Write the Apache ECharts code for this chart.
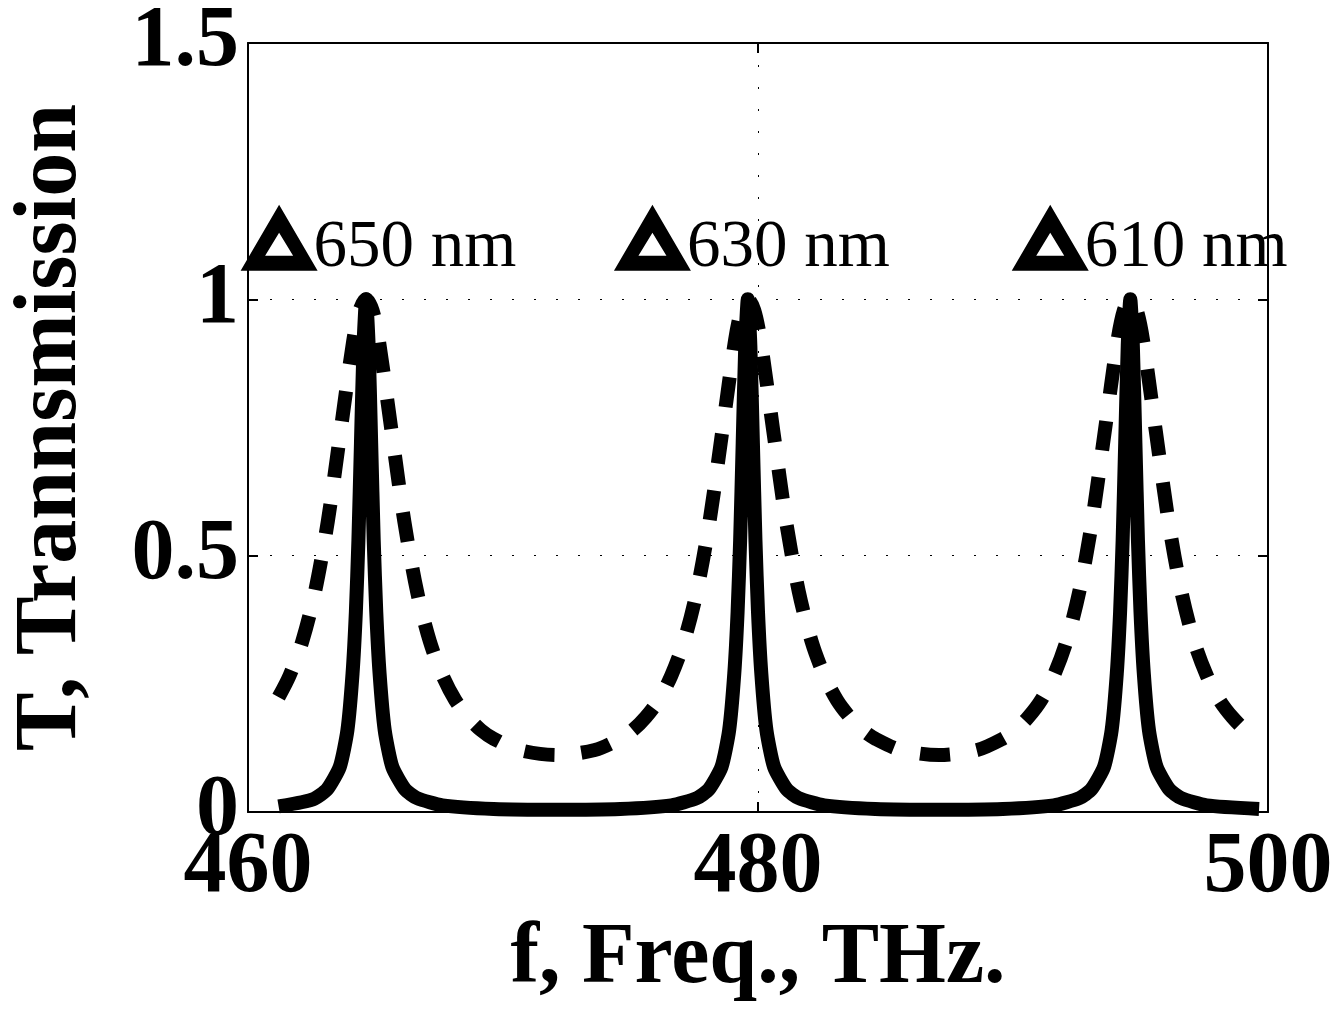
<!DOCTYPE html>
<html>
<head>
	<meta charset="UTF-8">
	<title>T, Transmission</title>
	<script src="https://cdn.jsdelivr.net/npm/echarts@6/dist/echarts.min.js"></script>
	<style>
		html, body { margin: 0; padding: 0; background: #fff; }
		#chart { width: 1339px; height: 1013px; }
	</style>
</head>
<body>
	<div id="chart"></div>
	<script>
		// x axis ticks
		var freqTicks = [460, 480, 500];
		var transTicks = [0, 0.5, 1, 1.5];

		// solid curve (narrow resonances)
		var solidFreq = [461.2, 462.1, 462.6, 463.1, 463.6, 463.9, 464.1, 464.23, 464.33, 464.43, 464.53, 464.63,
			464.73, 464.83, 464.93, 465.03, 465.16, 465.36, 465.66, 466.16, 466.63, 467.63, 469.63, 472.1,
			474.6, 476.6, 477.6, 478.07, 478.57, 478.87, 479.07, 479.2, 479.3, 479.4, 479.5, 479.6,
			479.7, 479.8, 479.9, 480.0, 480.13, 480.33, 480.63, 481.13, 481.6, 482.6, 484.6, 487.1,
			489.6, 491.6, 492.6, 493.07, 493.57, 493.87, 494.07, 494.2, 494.3, 494.4, 494.5, 494.6,
			494.7, 494.8, 494.9, 495.0, 495.13, 495.33, 495.63, 496.13, 496.6, 497.6, 499.65];
		var solidTrans = [0.011, 0.019, 0.026, 0.044, 0.088, 0.16, 0.27, 0.39, 0.53, 0.72, 0.91, 1.0,
			0.91, 0.72, 0.53, 0.39, 0.27, 0.16, 0.088, 0.044, 0.027, 0.013, 0.006, 0.0045,
			0.006, 0.013, 0.027, 0.044, 0.088, 0.16, 0.27, 0.39, 0.53, 0.72, 0.91, 1.0,
			0.91, 0.72, 0.53, 0.39, 0.27, 0.16, 0.088, 0.044, 0.027, 0.013, 0.006, 0.0045,
			0.006, 0.013, 0.027, 0.044, 0.088, 0.16, 0.27, 0.39, 0.53, 0.72, 0.91, 1.0,
			0.91, 0.72, 0.53, 0.39, 0.27, 0.16, 0.088, 0.044, 0.027, 0.013, 0.006];

		// dashed curve (broad resonances)
		var dashFreq = [461.2, 461.63, 462.13, 462.63, 463.13, 463.63, 464.13, 464.38, 464.63, 464.88, 465.13, 465.63,
			466.13, 466.63, 467.13, 467.63, 468.13, 468.63, 469.13, 469.63, 470.63, 472.1,
			473.6, 474.6, 475.1, 475.6, 476.1, 476.6, 477.1, 477.6, 478.1, 478.6, 479.1, 479.35, 479.6,
			479.85, 480.1, 480.6, 481.1, 481.6, 482.1, 482.6, 483.1, 483.6, 484.1, 484.6, 485.6, 487.1,
			488.6, 489.6, 490.1, 490.6, 491.1, 491.6, 492.1, 492.6, 493.1, 493.6, 494.1, 494.35, 494.6,
			494.85, 495.1, 495.6, 496.1, 496.6, 497.1, 497.6, 498.1, 498.6, 499.1, 499.65];
		var dashTrans = [0.224, 0.266, 0.333, 0.43, 0.567, 0.743, 0.92, 0.979, 1.0, 0.979, 0.92, 0.743,
			0.567, 0.43, 0.333, 0.266, 0.218, 0.185, 0.16, 0.143, 0.121, 0.111,
			0.121, 0.143, 0.16, 0.185, 0.218, 0.266, 0.333, 0.43, 0.567, 0.743, 0.92, 0.979, 1.0,
			0.979, 0.92, 0.743, 0.567, 0.43, 0.333, 0.266, 0.218, 0.185, 0.16, 0.143, 0.121, 0.111,
			0.121, 0.143, 0.16, 0.185, 0.218, 0.266, 0.333, 0.43, 0.567, 0.743, 0.92, 0.979, 1.0,
			0.979, 0.92, 0.743, 0.567, 0.43, 0.333, 0.266, 0.218, 0.185, 0.16, 0.142];

		// wavelength markers
		var markFreq = [461.22, 475.86, 491.46];
		var markTrans = [1.12, 1.12, 1.12];
		var markLabels = ['650 nm', '630 nm', '610 nm'];

		function zip(xs, ys) {
			return xs.map(function (x, i) { return [x, ys[i]]; });
		}

		var font = 'Liberation Serif';
		// hollow triangle marker
		var triangle = 'path://M38.5,0 L77,66 L0,66 Z M38.5,28 L24.5,51 L52.5,51 Z';
		var boxLine = { show: true, onZero: false, lineStyle: { color: '#000', width: 2 } };
		var boxTick = { inside: true, length: 10, lineStyle: { color: '#000', width: 2 } };
		var dotted = { show: true, lineStyle: { color: '#000', width: 1, type: [2, 20] } };
		var bigText = { fontFamily: font, fontWeight: 'bold', fontSize: 86, color: '#000' };

		var myChart = echarts.init(document.getElementById('chart'));
		var option = {
			animation: false,
			backgroundColor: '#fff',
			grid: { left: 245, top: 40, right: 71, bottom: 201 },
			xAxis: [{
				type: 'value',
				min: freqTicks[0],
				max: freqTicks[freqTicks.length - 1],
				interval: freqTicks[1] - freqTicks[0],
				name: 'f, Freq., THz.',
				nameLocation: 'middle',
				nameGap: 100,
				nameTextStyle: bigText,
				axisLine: boxLine,
				axisTick: boxTick,
				axisLabel: Object.assign({ margin: 14 }, bigText),
				splitLine: dotted
			}, {
				type: 'value',
				position: 'top',
				min: freqTicks[0],
				max: freqTicks[freqTicks.length - 1],
				interval: freqTicks[1] - freqTicks[0],
				axisLine: boxLine,
				axisTick: boxTick,
				axisLabel: { show: false },
				splitLine: { show: false }
			}],
			yAxis: [{
				type: 'value',
				min: transTicks[0],
				max: transTicks[transTicks.length - 1],
				interval: transTicks[1] - transTicks[0],
				name: 'T, Trannsmission',
				nameLocation: 'middle',
				nameRotate: 90,
				nameGap: 152,
				nameTextStyle: Object.assign({}, bigText, { fontSize: 88 }),
				axisLine: boxLine,
				axisTick: boxTick,
				axisLabel: Object.assign({ margin: 9 }, bigText),
				splitLine: dotted
			}, {
				type: 'value',
				position: 'right',
				min: transTicks[0],
				max: transTicks[transTicks.length - 1],
				interval: transTicks[1] - transTicks[0],
				axisLine: boxLine,
				axisTick: boxTick,
				axisLabel: { show: false },
				splitLine: { show: false }
			}],
			series: [{
				name: 'broad',
				type: 'line',
				data: zip(dashFreq, dashTrans),
				showSymbol: false,
				smooth: 0.3,
				lineStyle: { color: '#000', width: 14, type: [30, 27], cap: 'butt', join: 'round' },
				z: 2
			}, {
				name: 'narrow',
				type: 'line',
				data: zip(solidFreq, solidTrans),
				showSymbol: false,
				smooth: 0.2,
				lineStyle: { color: '#000', width: 14, cap: 'butt', join: 'round' },
				z: 3
			}, {
				name: 'marks',
				type: 'scatter',
				data: markFreq.map(function (f, i) { return [f, markTrans[i], markLabels[i]]; }),
				symbol: triangle,
				symbolSize: [77, 66],
				itemStyle: { color: '#000', opacity: 1 },
				label: {
					show: true,
					position: 'right',
					distance: 0,
					offset: [-4, 11],
					formatter: function (p) { return p.data[2]; },
					fontFamily: font,
					fontSize: 67,
					color: '#000'
				},
				z: 4
			}]
		};
		myChart.setOption(option);
	</script>
</body>
</html>
